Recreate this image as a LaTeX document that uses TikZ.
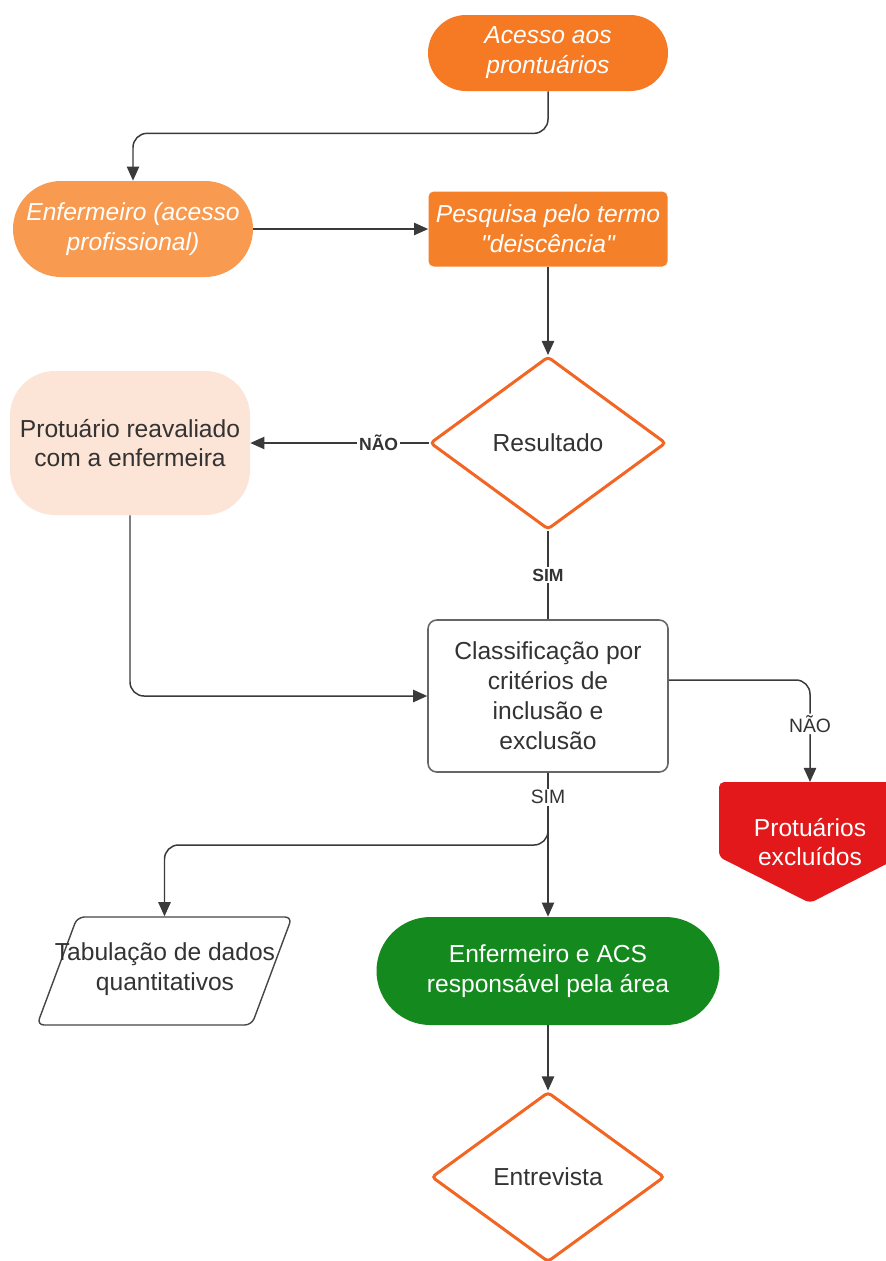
\documentclass[tikz,border=0pt]{standalone}
\usepackage{fontspec}
\setmainfont{Liberation Sans}
\usetikzlibrary{shapes.geometric, arrows.meta}
\definecolor{tinta}{RGB}{51,51,51}
\definecolor{fiocor}{RGB}{58,58,58}
\definecolor{lara}{RGB}{246,122,36}
\definecolor{laradois}{RGB}{245,128,42}
\definecolor{laraclaro}{RGB}{248,155,80}
\definecolor{borda}{RGB}{242,101,34}
\definecolor{pessego}{RGB}{252,228,214}
\definecolor{cinza}{RGB}{102,102,102}
\definecolor{cinzaesc}{RGB}{70,70,70}
\definecolor{vermelho}{RGB}{226,24,27}
\definecolor{verde}{RGB}{20,138,30}

\begin{document}
\begin{tikzpicture}[
  every node/.style={font=\fontsize{14}{17}\selectfont, align=center, text=tinta, inner sep=2pt},
  pill/.style={rectangle, minimum width=4.8cm, text=white, font=\fontsize{14}{17}\selectfont\itshape},
  losango/.style={diamond, draw=borda, line width=1.7pt, fill=white, minimum width=4.72cm, minimum height=3.46cm, rounded corners=2pt, inner sep=0pt},
  fio/.style={draw=fiocor, line width=0.85pt},
  seta/.style={fio, -{Triangle[length=8pt,width=7pt]}},
  rot/.style={fill=white, font=\fontsize{11}{13}\selectfont, inner sep=1pt},
  rotb/.style={fill=white, font=\bfseries\fontsize{10}{12}\selectfont, inner sep=1pt}
]
\path[use as bounding box, fill=white] (0,0) rectangle (17.72,-25.22);

\node[pill, fill=lara, minimum height=1.52cm, rounded corners=0.76cm] (ac) at (10.96,-1.06) {Acesso aos\\prontuários};
\node[pill, fill=laraclaro, minimum height=1.92cm, rounded corners=0.96cm] (enf) at (2.66,-4.58) {Enfermeiro (acesso\\profissional)};
\node[pill, fill=laradois, minimum width=4.78cm, minimum height=1.5cm, rounded corners=3pt] (pq) at (10.96,-4.58) {Pesquisa pelo termo\\\textquotedbl deiscência\textquotedbl};

\node[losango] (res) at (10.96,-8.86) {Resultado};
\node[fill=pessego, minimum width=4.8cm, minimum height=2.88cm, rounded corners=0.9cm] (rev) at (2.6,-8.86) {Protuário reavaliado\\com a enfermeira};

\node[draw=cinza, line width=0.9pt, fill=white, minimum width=4.8cm, minimum height=3.04cm, rounded corners=5pt] (cl) at (10.96,-13.92) {Classificação por\\critérios de\\inclusão e\\exclusão};

% forma de saida (vermelha)
\fill[vermelho, rounded corners=3pt] (14.38,-15.64) -- (18.0,-15.64) -- (18.0,-17.14) -- (16.2,-18.06) -- (14.38,-17.14) -- cycle;
\coordinate (extopo) at (16.2,-15.64);
\node[text=white] (ex) at (16.2,-16.84) {Protuários\\excluídos};

\node[trapezium, trapezium left angle=77, trapezium right angle=103, trapezium stretches=true, draw=cinzaesc, line width=0.8pt, minimum width=5.1cm, minimum height=2.16cm, rounded corners=4pt] (tab) at (3.29,-19.42) {};
\node (tabt) at (3.3,-19.38) {Tabulação de dados\\quantitativos};
\node[fill=verde, text=white, minimum width=6.86cm, minimum height=2.16cm, rounded corners=1.08cm] (acs) at (10.96,-19.42) {Enfermeiro e ACS\\responsável pela área};
\node[losango, minimum width=4.66cm, minimum height=3.4cm] (ent) at (10.96,-23.54) {Entrevista};

\coordinate (div) at (10.96,-16.9);

\draw[seta, rounded corners=8pt] (ac.south) -- ++(0,-0.84) -| (enf.north);
\draw[seta] (enf) -- (pq);
\draw[seta] (pq) -- (res);
\draw[seta] (res) -- node[rotb, pos=0.28] {NÃO} (rev);
\draw[fio] (res) -- node[rotb] {SIM} (cl);
\draw[seta, rounded corners=8pt] (rev.south) |- (cl.west);
\draw[seta, rounded corners=8pt] ([yshift=0.32cm]cl.east) -| node[rot, pos=0.715] {NÃO} (extopo);
\draw[seta, rounded corners=8pt] (cl.south) -- (div) -| (tab.north);
\draw[seta] (cl) -- node[rot, pos=0.17] {SIM} (acs);
\draw[seta] (acs) -- (ent);
\end{tikzpicture}
\end{document}
